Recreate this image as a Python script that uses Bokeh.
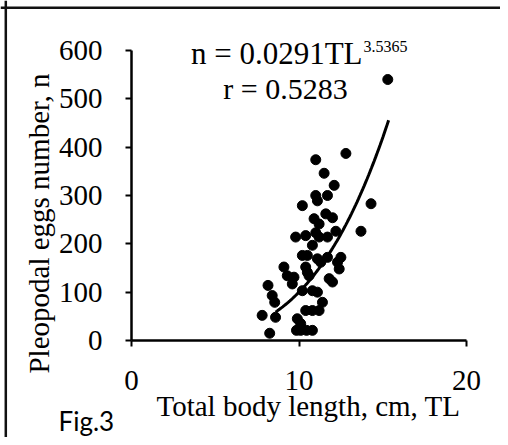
import numpy as np
from bokeh.plotting import figure
from bokeh.models import Label, FixedTicker, Range1d, LinearAxis, Span
from bokeh.embed import file_html
from bokeh.resources import INLINE

# ---- data ----
tl = [11.0, 12.8, 11.5, 12.1, 11.0, 11.7, 11.1, 10.2, 10.9, 11.6,
      12.0, 11.2, 9.8, 10.4, 11.0, 11.2, 11.7, 12.2, 13.7, 14.3,
      15.3, 10.8, 10.2, 10.5, 11.1, 11.3, 12.5, 12.3, 12.4, 10.4,
      10.5, 9.1, 9.3, 9.7, 9.6, 10.6, 11.8, 12.0, 8.15, 10.2,
      10.8, 11.1, 8.4, 8.55, 7.8, 8.6, 11.4, 11.2, 10.8, 10.4,
      9.9, 10.1, 9.85, 10.1, 10.45, 10.8, 8.25, 11.7]
eggs = [374, 387, 346, 321, 300, 300, 289, 279, 252, 262,
        254, 241, 214, 217, 223, 214, 214, 226, 226, 283,
        540, 197, 176, 176, 169, 162, 172, 162, 148, 152,
        141, 152, 134, 131, 117, 134, 128, 121, 114, 103,
        103, 100, 93, 79, 52, 48, 79, 62, 62, 62,
        45, 35, 21, 21, 21, 21, 15, 172]

fit_a = 0.0291
fit_b = 3.5365
fit_tl_min, fit_tl_max = 8.6, 15.35

x_ticks = [0, 10, 20]
y_ticks = [0, 100, 200, 300, 400, 500, 600]

eq_text = "n = 0.0291TL"
eq_sup = "3.5365"
r_text = "r = 0.5283"
x_title = "Total body length, cm, TL"
y_title = "Pleopodal eggs number, n"
fig_text = "Fig.3"

SERIF = "Liberation Serif"

# canvas-pixel -> data helpers (axis origin at canvas pixel (131, 340))
PX_PER_X = 16.75
PX_PER_Y = 290 / 600


def data_x(px):
    return (px - 131) / PX_PER_X


def data_y(py):
    return (340 - py) / PX_PER_Y


W, H = 500, 437
p = figure(width=W, height=H, output_backend="svg", toolbar_location=None,
           x_range=Range1d(data_x(0), data_x(W)),
           y_range=Range1d(data_y(H), data_y(0)),
           x_axis_location=None, y_axis_location=None,
           min_border=0)
p.outline_line_color = None
p.grid.visible = False
p.background_fill_color = "white"
p.border_fill_color = "white"

xax = LinearAxis(fixed_location=0, bounds=(0, 20), ticker=FixedTicker(ticks=x_ticks))
yax = LinearAxis(fixed_location=0, bounds=(0, 600), ticker=FixedTicker(ticks=y_ticks))
for ax in (xax, yax):
    ax.axis_line_color = "black"
    ax.axis_line_width = 2.5
    ax.major_tick_line_color = "black"
    ax.major_tick_line_width = 2
    ax.major_tick_out = 6
    ax.major_tick_in = 0
    ax.minor_tick_line_color = None
    ax.major_label_text_font = SERIF
    ax.major_label_text_font_size = "29px"
    ax.major_label_text_color = "black"
xax.major_label_standoff = 24
yax.major_label_standoff = 23
p.add_layout(xax, "below")
p.add_layout(yax, "left")

# frame border (left and top edges only are visible in the reference)
p.add_layout(Span(location=data_x(5.3), dimension="height",
                  line_color="#111111", line_width=2.5))
p.add_layout(Span(location=data_y(7.2), dimension="width",
                  line_color="#111111", line_width=2.5))

# fitted curve from the equation shown in the chart
cx = np.linspace(fit_tl_min, fit_tl_max, 80)
cy = fit_a * cx ** fit_b
p.line(cx, cy, line_color="black", line_width=3)

p.scatter(tl, eggs, size=10, fill_color="black", line_color="black")

p.add_layout(Label(x=data_x(362), y=data_y(53), text=eq_text,
                   text_font=SERIF, text_font_size="31px", text_align="right",
                   text_baseline="alphabetic", text_color="black"))
p.add_layout(Label(x=data_x(363), y=data_y(46), text=eq_sup,
                   text_font=SERIF, text_font_size="16px", text_align="left",
                   text_baseline="alphabetic", text_color="black"))
p.add_layout(Label(x=data_x(285), y=data_y(88), text=r_text,
                   text_font=SERIF, text_font_size="30px", text_align="center",
                   text_baseline="alphabetic", text_color="black"))
p.add_layout(Label(x=data_x(308), y=data_y(405), text=x_title,
                   text_font=SERIF, text_font_size="29px", text_align="center",
                   text_baseline="alphabetic", text_color="black"))
p.add_layout(Label(x=data_x(38), y=data_y(223), text=y_title, angle=np.pi / 2,
                   text_font=SERIF, text_font_size="29px", text_align="center",
                   text_baseline="alphabetic", text_color="black"))
p.add_layout(Label(x=data_x(58), y=data_y(420), text=fig_text,
                   text_font="Lato", text_font_size="26px", text_align="left",
                   text_baseline="alphabetic", text_color="black"))

open("out.html", "w").write(file_html(p, INLINE))
